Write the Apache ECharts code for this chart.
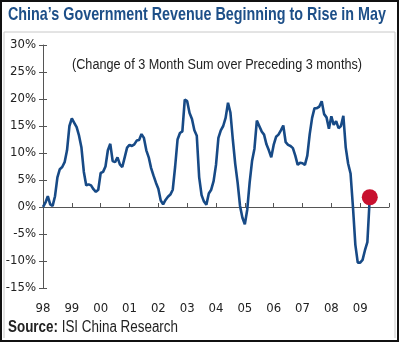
<!DOCTYPE html>
<html>
<head>
<meta charset="utf-8">
<script src="https://cdn.jsdelivr.net/npm/echarts@6/dist/echarts.min.js"></script>
<style>
html,body{margin:0;padding:0;background:#fff;}
#c{width:400px;height:343px;}
</style>
</head>
<body>
<div id="c"></div>
<script>
// Chart texts
var titleText = "China\u2019s Government Revenue Beginning to Rise in May";
var subtitleText = "(Change of 3 Month Sum over Preceding 3 months)";
var sourceLabel = "Source:";
var sourceText = "ISI China Research";

// Axis: monthly categories Jan 1998 .. Jan 2010
var startYear = 1998, endYear = 2010;
var months = [];
for (var y = startYear; y <= endYear; y++) {
  for (var mo = 1; mo <= 12; mo++) {
    if (y === endYear && mo > 1) break;
    months.push(y + "-" + (mo < 10 ? "0" + mo : mo));
  }
}
var yTicks = { min: -15, max: 30, step: 5 };

// Series values (%), Jan 1998 .. May 2009
var revenueChange = [
  0, 0.8, 2, 0.5, 0.2, 2, 5.5, 7, 7.4, 8.3, 10.5, 15,          // 1998
  16.4, 15.6, 14.8, 13.2, 11, 6.5, 4, 4.2, 4, 3.3, 2.8, 3.2,   // 1999
  6.3, 6.5, 7.5, 10.5, 11.7, 8.5, 8.3, 9.2, 7.9, 7.4, 9.2, 11, // 2000
  11.5, 11.3, 11.6, 12.3, 12.4, 13.5, 12.8, 10.5, 9.2, 7.2, 5.8, 4.5, // 2001
  3.4, 1.2, 0.5, 1.3, 1.9, 2.3, 3.2, 7.5, 12.5, 13.7, 14, 19.9, // 2002
  19.6, 17.4, 16.3, 14.2, 13.2, 5.5, 2.2, 1.0, 0.4, 2.5, 3.2, 4.8, // 2003
  7.8, 12.8, 14.2, 15, 16.5, 19.3, 17.5, 12.5, 8, 4.5, 0.2, -2, // 2004
  -3.2, -0.5, 4.5, 8.5, 10.8, 16, 15, 14, 13.4, 11.6, 10.5, 9.2, // 2005
  11.5, 13, 13.4, 14.2, 15.1, 12, 11.5, 11.3, 10.9, 9.5, 7.8, 8.2, // 2006
  8.1, 7.8, 9.5, 13.5, 16.5, 18.3, 18.3, 18.6, 19.6, 17.2, 16.6, 14.5, // 2007
  16.8, 15.2, 15.9, 14.6, 15, 16.9, 11, 8, 6.2, 0, -7, -10.3,  // 2008
  -10.3, -9.8, -8, -6.5, 1.8                                    // 2009
];

var lastIdx = revenueChange.length - 1;
var highlight = [[months[lastIdx], revenueChange[lastIdx]]];

var narrow = '"DejaVu Sans Condensed", "Liberation Sans Narrow", sans-serif';
var sans = '"Liberation Sans", Arial, sans-serif';
var lineBlue = '#174a86';
var axisGrey = '#555';

// text width helper for horizontal condensing
var mctx = document.createElement('canvas').getContext('2d');
function textWidth(t, font) { mctx.font = font; return mctx.measureText(t).width; }

var titleFont = 'bold 19px ' + sans;
var titleScale = 378 / textWidth(titleText, titleFont);
var subFont = '14px ' + sans;
var subScale = 290 / textWidth(subtitleText, subFont);
var srcBoldFont = 'bold 16px ' + sans;
var srcFont = '16px ' + sans;
var srcW1 = textWidth(sourceLabel + ' ', srcBoldFont);
var srcW2 = textWidth(sourceText, srcFont);
var srcScale = 170 / (srcW1 + srcW2);

var chart = echarts.init(document.getElementById('c'), null, {renderer: 'canvas'});
chart.setOption({
  backgroundColor: '#fff',
  animation: false,
  graphic: [
    { type: 'rect', shape: { x: 1, y: 1, width: 397, height: 340 },
      style: { fill: 'none', stroke: '#111', lineWidth: 2 }, silent: true },
    { type: 'polyline', shape: { points: [[4, 338], [4, 32], [395, 32], [395, 338]] },
      style: { fill: 'none', stroke: '#c8c8c8', lineWidth: 1 }, silent: true },
    { type: 'text', x: 8, y: 15, scaleX: titleScale, silent: true,
      style: { text: titleText, font: titleFont, fill: '#1d4f88', verticalAlign: 'middle' } },
    { type: 'text', x: 72, y: 65, scaleX: subScale, silent: true,
      style: { text: subtitleText, font: subFont, fill: '#222', verticalAlign: 'middle' } },
    { type: 'group', x: 8, y: 328, scaleX: srcScale, silent: true, children: [
      { type: 'text', x: 0, y: 0, style: { text: sourceLabel, font: srcBoldFont, fill: '#222', verticalAlign: 'middle' } },
      { type: 'text', x: srcW1, y: 0, style: { text: sourceText, font: srcFont, fill: '#222', verticalAlign: 'middle' } }
    ] }
  ],
  grid: { left: 43, right: 11, top: 45, bottom: 55, containLabel: false },
  xAxis: [
    { type: 'category', data: months, boundaryGap: false,
      axisLine: { onZero: true, onZeroAxisIndex: 0, lineStyle: { color: axisGrey, width: 1 } },
      axisTick: { inside: true, length: 4, lineStyle: { color: axisGrey },
        interval: function (i) { return i % 12 === 0; } },
      axisLabel: { show: false }, splitLine: { show: false } },
    { type: 'category', data: months, boundaryGap: false, position: 'bottom',
      axisLine: { show: false, onZero: false }, axisTick: { show: false },
      axisLabel: { margin: 14, fontFamily: narrow, fontSize: 13, color: '#222',
        interval: function (i) { return i % 12 === 0 && i < months.length - 1; },
        formatter: function (v) { return v.substr(2, 2); } },
      splitLine: { show: false } }
  ],
  yAxis: [
    { type: 'value', min: yTicks.min, max: yTicks.max, interval: yTicks.step,
      axisLine: { show: true, lineStyle: { color: axisGrey, width: 1 } },
      axisTick: { show: true, length: 4, lineStyle: { color: axisGrey } },
      axisLabel: { margin: 7, fontFamily: narrow, fontSize: 13, color: '#222',
        formatter: '{value}%' },
      splitLine: { show: false } },
    { type: 'value', min: yTicks.min, max: yTicks.max, interval: yTicks.step, position: 'left',
      axisLine: { show: false }, axisTick: { show: true, inside: true, length: 4, lineStyle: { color: axisGrey } },
      axisLabel: { show: false }, splitLine: { show: false } }
  ],
  series: [
    { type: 'line', data: revenueChange, xAxisIndex: 0, yAxisIndex: 0,
      symbol: 'none', lineStyle: { color: lineBlue, width: 2.6 }, z: 3 },
    { type: 'scatter', data: highlight, xAxisIndex: 0, yAxisIndex: 0,
      symbolSize: 16, itemStyle: { color: '#c8102e', opacity: 1 }, z: 4 }
  ]
});
</script>
</body>
</html>
